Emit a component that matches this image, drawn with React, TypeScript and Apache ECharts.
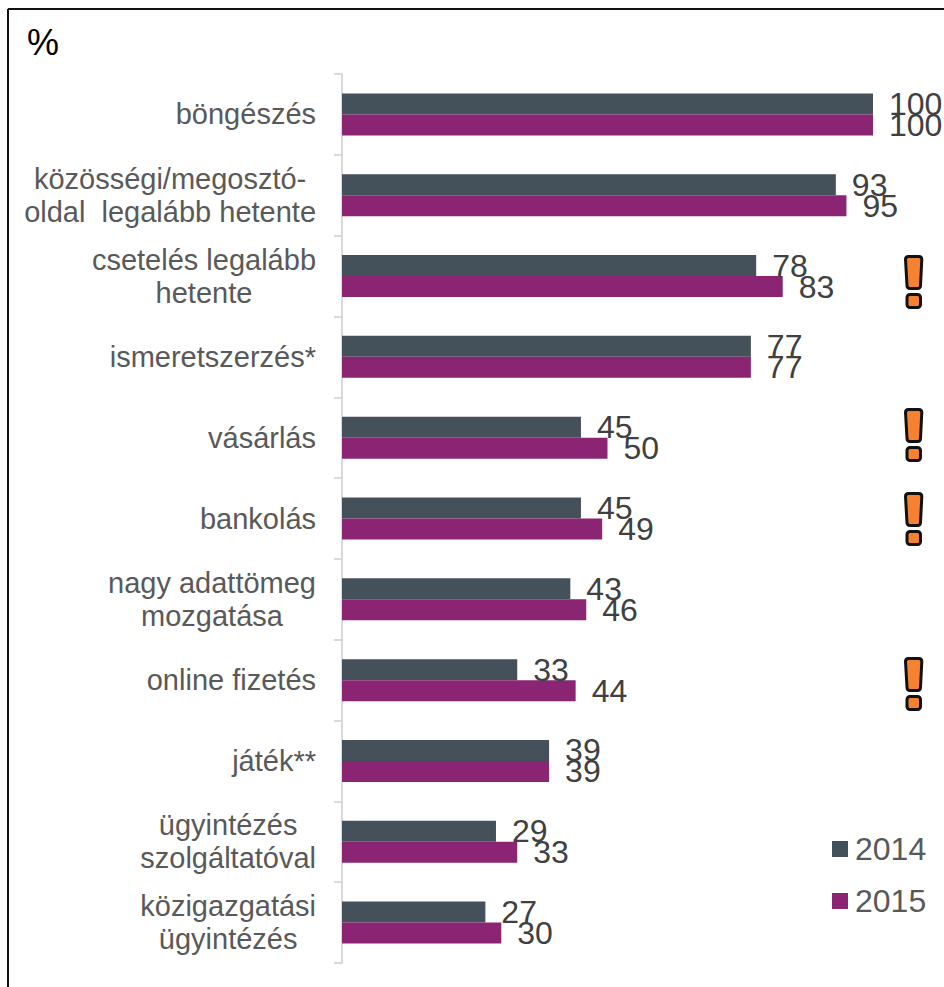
import React, { useEffect, useRef } from "react";
import * as echarts from "echarts";

const categories = [
  "böngészés",
  "közösségi/megosztó-\noldal  legalább hetente",
  "csetelés legalább\nhetente",
  "ismeretszerzés*",
  "vásárlás",
  "bankolás",
  "nagy adattömeg\nmozgatása",
  "online fizetés",
  "játék**",
  "ügyintézés\nszolgáltatóval",
  "közigazgatási\nügyintézés",
];
const values2014 = [100, 93, 78, 77, 45, 45, 43, 33, 39, 29, 27];
const values2015 = [100, 95, 83, 77, 50, 49, 46, 44, 39, 33, 30];
const seriesNames = ["2014", "2015"];
const alertTops = [255, 408, 492, 657];

const FONT = "'Liberation Sans', Arial, sans-serif";

echarts.graphic.registerShape(
  "alertBar",
  echarts.graphic.extendPath(
    "M3.5 1.5 H13.8 Q16.8 1.5 16.8 4.5 L15.5 30.5 Q15.4 33.5 12.5 33.5 H5 Q2.1 33.5 2 30.5 L0.5 4.5 Q0.5 1.5 3.5 1.5 Z",
    {}
  )
);

function alertMark(top: number) {
  const style = { fill: "#F58233", stroke: "#111111", lineWidth: 3 };
  return {
    type: "group",
    x: 905,
    y: top,
    silent: true,
    children: [
      { type: "alertBar", style },
      { type: "rect", shape: { x: 2, y: 39.5, width: 13.5, height: 13, r: 3 }, style },
    ],
  };
}

export default function App() {
  const ref = useRef<HTMLDivElement>(null);
  useEffect(() => {
    const chart = echarts.init(ref.current!, undefined, { renderer: "svg" });
    const labelOf = (color: string) => ({
      show: true,
      position: "right" as const,
      distance: 16,
      fontFamily: FONT,
      fontSize: 32,
      color,
    });
    chart.setOption({
      animation: false,
      backgroundColor: "#ffffff",
      title: {
        text: "%",
        left: 22,
        top: 19,
        textStyle: { fontFamily: FONT, fontSize: 36, fontWeight: "normal", color: "#000000" },
      },
      legend: {
        orient: "vertical",
        left: 832,
        top: 833,
        itemWidth: 16,
        itemHeight: 16,
        itemGap: 20,
        icon: "rect",
        padding: 0,
        textStyle: { fontFamily: FONT, fontSize: 32, color: "#595959", padding: [0, 0, 0, 2] },
        data: seriesNames,
      },
      grid: { left: 342, top: 74, width: 531, height: 889 },
      xAxis: { type: "value", min: 0, max: 100, show: false },
      yAxis: {
        type: "category",
        inverse: true,
        data: categories,
        axisLine: { show: true, lineStyle: { color: "#D9D9D9", width: 2 } },
        axisTick: { show: true, length: 8, lineStyle: { color: "#D9D9D9", width: 2 } },
        axisLabel: {
          margin: 26,
          align: "right",
          fontFamily: FONT,
          fontSize: 29,
          color: "#595959",
          lineHeight: 33,
          formatter: (v: string) => v.split("\n").map((l) => `{c|${l}}`).join("\n"),
          rich: {
            c: { align: "center", fontFamily: FONT, fontSize: 29, color: "#595959", lineHeight: 33 },
          },
        },
      },
      series: [
        {
          name: seriesNames[0],
          type: "bar",
          data: values2014,
          barWidth: 21,
          barGap: "0%",
          itemStyle: { color: "#44515B" },
          label: labelOf("#404040"),
        },
        {
          name: seriesNames[1],
          type: "bar",
          data: values2015,
          barWidth: 21,
          barGap: "0%",
          itemStyle: { color: "#8B2573" },
          label: labelOf("#404040"),
        },
      ],
      graphic: [
        { type: "line", silent: true, shape: { x1: 8, y1: 9, x2: 944, y2: 9 }, style: { stroke: "#111111", lineWidth: 2 } },
        { type: "line", silent: true, shape: { x1: 8, y1: 9, x2: 8, y2: 987 }, style: { stroke: "#111111", lineWidth: 2 } },
        ...alertTops.map(alertMark),
      ],
    });
    return () => chart.dispose();
  }, []);
  return <div ref={ref} style={{ position: "absolute", left: 0, top: 0, width: 944, height: 987 }} />;
}
